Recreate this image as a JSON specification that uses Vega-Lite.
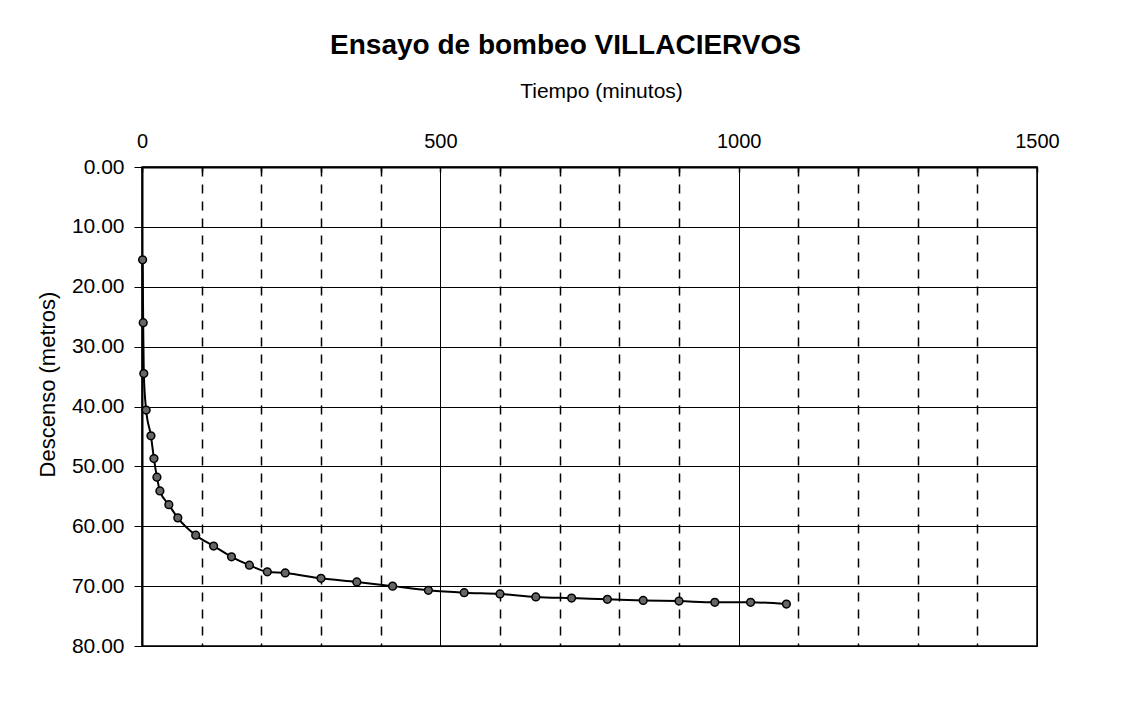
{
  "$schema": "https://vega.github.io/schema/vega-lite/v6.json",
  "width": 895,
  "height": 479,
  "autosize": "none",
  "padding": {"left": 142, "top": 167, "right": 84, "bottom": 64},
  "background": "white",
  "title": {
    "text": "Ensayo de bombeo VILLACIERVOS",
    "font": "Liberation Sans",
    "fontSize": 28,
    "fontWeight": "bold",
    "color": "black",
    "anchor": "middle",
    "dx": -24,
    "offset": 20
  },
  "config": {
    "view": {"stroke": "black", "strokeWidth": 1.5},
    "font": "Liberation Sans"
  },
  "data": {
    "values": [
      {"t": 1, "d": 15.5},
      {"t": 2, "d": 26.0},
      {"t": 3, "d": 34.5},
      {"t": 7, "d": 40.6},
      {"t": 15, "d": 44.9},
      {"t": 20, "d": 48.7},
      {"t": 25, "d": 51.8},
      {"t": 30, "d": 54.1},
      {"t": 45, "d": 56.4},
      {"t": 60, "d": 58.6},
      {"t": 90, "d": 61.5},
      {"t": 120, "d": 63.3},
      {"t": 150, "d": 65.1},
      {"t": 180, "d": 66.5},
      {"t": 210, "d": 67.6},
      {"t": 240, "d": 67.8},
      {"t": 300, "d": 68.7},
      {"t": 360, "d": 69.3},
      {"t": 420, "d": 70.0},
      {"t": 480, "d": 70.7},
      {"t": 540, "d": 71.1},
      {"t": 600, "d": 71.3},
      {"t": 660, "d": 71.8},
      {"t": 720, "d": 72.0},
      {"t": 780, "d": 72.2},
      {"t": 840, "d": 72.4},
      {"t": 900, "d": 72.5},
      {"t": 960, "d": 72.7},
      {"t": 1020, "d": 72.7},
      {"t": 1080, "d": 73.0}
    ]
  },
  "encoding": {
    "x": {
      "field": "t",
      "type": "quantitative",
      "scale": {"domain": [0, 1500], "nice": false, "zero": false},
      "axis": {
        "orient": "top",
        "title": "Tiempo (minutos)",
        "titleFont": "Liberation Sans",
        "titleFontSize": 21,
        "titleFontWeight": "normal",
        "titleColor": "black",
        "titlePadding": 30,
        "titleX": 459,
        "values": [0, 100, 200, 300, 400, 500, 600, 700, 800, 900, 1000, 1100, 1200, 1300, 1400, 1500],
        "format": "d",
        "labelExpr": "datum.value % 500 === 0 ? datum.label : ''",
        "labelFontSize": 20,
        "labelColor": "black",
        "labelPadding": 21,
        "labelFlush": false,
        "labelOverlap": false,
        "ticks": true,
        "tickSize": -5,
        "tickColor": "black",
        "tickWidth": 1.5,
        "domain": true,
        "domainColor": "black",
        "domainWidth": 2,
        "grid": true,
        "gridColor": "black",
        "gridOpacity": 1,
        "gridWidth": {"condition": {"test": "datum.value % 500 === 0", "value": 1}, "value": 1.5},
        "gridDash": {"condition": {"test": "datum.value % 500 === 0", "value": []}, "value": [9, 8]}
      }
    },
    "y": {
      "field": "d",
      "type": "quantitative",
      "scale": {"domain": [0, 80], "nice": false, "reverse": true},
      "axis": {
        "title": "Descenso (metros)",
        "titleFont": "Liberation Sans",
        "titleFontSize": 22,
        "titleFontWeight": "normal",
        "titleColor": "black",
        "titlePadding": 12,
        "titleY": 217,
        "values": [0, 10, 20, 30, 40, 50, 60, 70, 80],
        "format": ".2f",
        "labelFontSize": 21,
        "labelColor": "black",
        "labelPadding": 10,
        "tickColor": "black",
        "tickSize": 8,
        "tickWidth": 1,
        "domainColor": "black",
        "domainWidth": 2,
        "grid": true,
        "gridColor": "black",
        "gridOpacity": 1,
        "gridWidth": 1
      }
    }
  },
  "layer": [
    {
      "mark": {"type": "line", "color": "black", "strokeWidth": 2, "interpolate": "monotone"}
    },
    {
      "mark": {"type": "point", "filled": true, "fill": "#666666", "stroke": "black", "strokeWidth": 1.5, "size": 60, "opacity": 1}
    }
  ]
}
